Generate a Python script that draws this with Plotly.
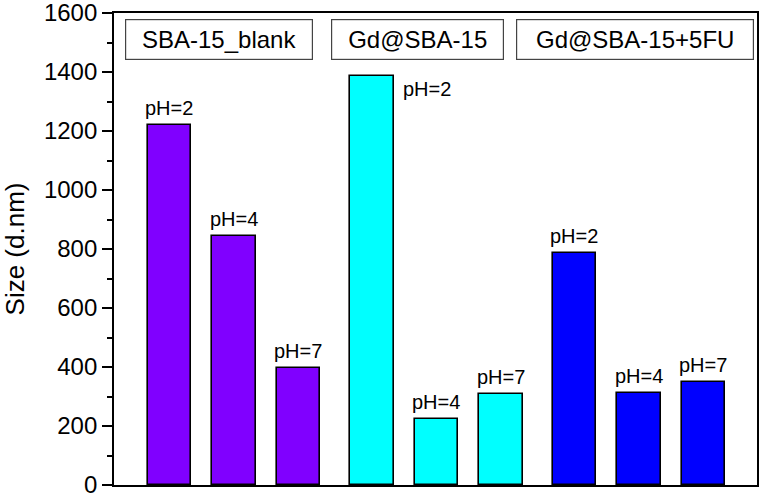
import plotly.graph_objects as go

# ---- data ----
groups = ["SBA-15_blank", "Gd@SBA-15", "Gd@SBA-15+5FU"]
ph_labels = ["pH=2", "pH=4", "pH=7"]
sba_blank = [1222, 845, 395]
gd_sba = [1387, 224, 310]
gd_sba_5fu = [785, 313, 350]
colors = ["#8000FF", "#00FFFF", "#0000FF"]

series = [sba_blank, gd_sba, gd_sba_5fu]
group_step = 3.14   # spacing between groups (bar slots)
bar_width = 0.68

FONT = "Arial, Liberation Sans, sans-serif"

fig = go.Figure()
annotations = []
tallest = max(max(s) for s in series)
for g, (name, vals, col) in enumerate(zip(groups, series, colors)):
    xs = [g * group_step + j for j in range(len(vals))]
    fig.add_trace(go.Bar(
        x=xs, y=vals, width=bar_width,
        marker=dict(color=col, line=dict(color="black", width=1.6)),
        showlegend=False, name=name,
    ))
    for x, v, lab in zip(xs, vals, ph_labels):
        if v == tallest:
            # tallest bar: label sits to the right of the bar
            annotations.append(dict(x=x + bar_width / 2, y=v, text=lab, showarrow=False,
                                    xanchor="left", yanchor="middle", xshift=7, yshift=-13,
                                    font=dict(family=FONT, size=20, color="black")))
        else:
            annotations.append(dict(x=x, y=v, text=lab, showarrow=False,
                                    xanchor="center", yanchor="middle", yshift=17,
                                    font=dict(family=FONT, size=20, color="black")))

# group label boxes
box_centers = [0.164, 0.472, 0.810]
box_widths = [186, 171, 236]
for name, cx, w in zip(groups, box_centers, box_widths):
    annotations.append(dict(x=cx, y=0.943, xref="paper", yref="paper", text=name,
                            showarrow=False, xanchor="center", yanchor="middle",
                            width=w, height=39, borderpad=0, borderwidth=1.2,
                            bordercolor="#444444", bgcolor="white",
                            font=dict(family=FONT, size=24, color="black")))

fig.update_layout(
    width=762, height=497,
    margin=dict(l=114, r=5, t=13, b=12),
    paper_bgcolor="white", plot_bgcolor="white",
    annotations=annotations,
    bargap=0,
)
fig.update_xaxes(range=[-0.86, 9.11], showticklabels=False, ticks="",
                 showline=True, linecolor="black", linewidth=1.8, mirror=True,
                 showgrid=False, zeroline=False)
fig.update_yaxes(range=[0, 1600], dtick=200, tick0=0, ticks="outside", ticklen=10,
                 tickwidth=1.6, tickcolor="black", ticklabeloverflow="allow",
                 minor=dict(dtick=100, ticks="outside", ticklen=5, tickwidth=1.6, tickcolor="black"),
                 showline=True, linecolor="black", linewidth=1.8, mirror=True,
                 showgrid=False, zeroline=False,
                 tickfont=dict(family=FONT, size=24, color="black"),
                 title=dict(text="Size (d.nm)", standoff=16,
                            font=dict(family=FONT, size=26, color="black")),
                 automargin=False)

fig.write_html("out.html", config={"displayModeBar": False},
               post_script="document.body.style.margin='0';")
